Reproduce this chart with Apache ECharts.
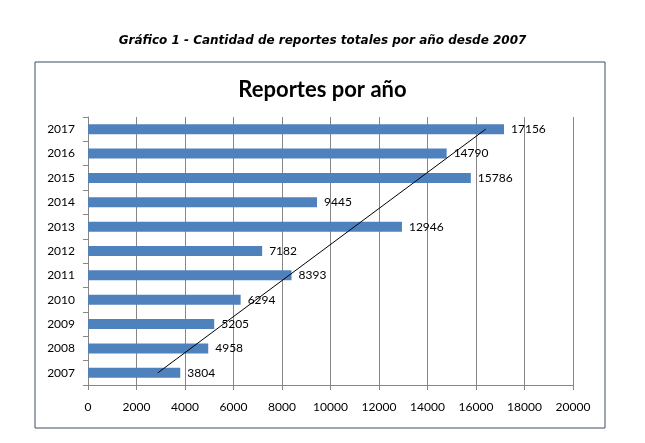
<!DOCTYPE html>
<html>
<head>
<meta charset="utf-8">
<script src="https://cdn.jsdelivr.net/npm/echarts@6/dist/echarts.min.js"></script>
<style>
  html, body { margin: 0; padding: 0; background: #fff; }
  #chart { width: 645px; height: 443px; }
</style>
</head>
<body>
<div id="chart"></div>
<script>
// Reports per year
const years = ['2007', '2008', '2009', '2010', '2011', '2012', '2013', '2014', '2015', '2016', '2017']
const reports = [3804, 4958, 5205, 6294, 8393, 7182, 12946, 9445, 15786, 14790, 17156]

// Linear trend line, endpoints
const trendYears = ['2007', '2017']
const trendValues = [2880, 16400]

const FONT = "Lato, 'Open Sans', sans-serif"

const chart = echarts.init(document.getElementById('chart'))

chart.setOption({
  animation: false,
  textStyle: { fontFamily: FONT },
  graphic: [
    {
      type: 'rect',
      shape: { x: 35, y: 62, width: 570, height: 366 },
      style: { fill: 'none', stroke: '#3d4c63', lineWidth: 1 }
    },
    {
      type: 'text',
      left: 'center',
      top: 35,
      style: {
        text: 'Gráfico 1 - Cantidad de reportes totales por año desde 2007',
        font: "italic bold 12px 'DejaVu Sans', Verdana, sans-serif",
        fill: '#000'
      }
    }
  ],
  title: {
    text: 'Reportes por año',
    left: 'center',
    top: 74,
    textStyle: { fontFamily: FONT, fontSize: 22, fontWeight: 'bold', color: '#000' }
  },
  grid: { left: 88, right: 72, top: 117, bottom: 58 },
  xAxis: {
    type: 'value',
    min: 0,
    max: 20000,
    interval: 2000,
    axisLine: { show: true, lineStyle: { color: '#868686' } },
    axisTick: { show: true, length: 5, lineStyle: { color: '#868686' } },
    axisLabel: { color: '#000', fontSize: 12, margin: 16, fontFamily: FONT, formatter: v => String(v) },
    splitLine: { show: true, lineStyle: { color: '#868686' } }
  },
  yAxis: {
    type: 'category',
    data: years,
    axisLine: { show: true, lineStyle: { color: '#868686' } },
    axisTick: { show: true, length: 5, lineStyle: { color: '#868686' } },
    axisLabel: { color: '#000', fontSize: 12, margin: 13, fontFamily: FONT }
  },
  series: [
    {
      type: 'bar',
      data: reports,
      barWidth: 10,
      itemStyle: { color: '#4f81bd' },
      label: {
        show: true,
        position: 'right',
        distance: 7,
        color: '#000',
        fontSize: 12,
        fontFamily: FONT
      }
    },
    {
      type: 'line',
      data: trendValues.map((v, i) => [v, trendYears[i]]),
      symbol: 'none',
      lineStyle: { color: '#000', width: 1 },
      z: 5
    }
  ]
})
</script>
</body>
</html>
